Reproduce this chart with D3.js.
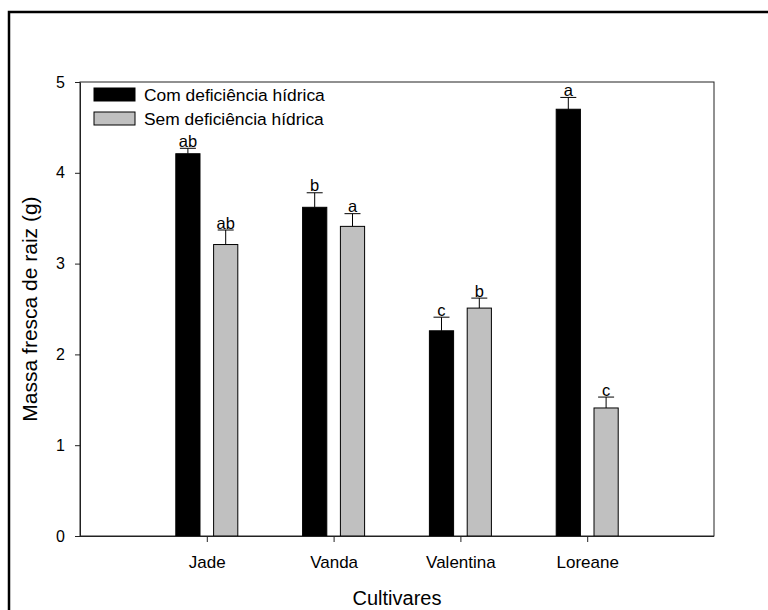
<!DOCTYPE html>
<html>
<head>
<meta charset="utf-8">
<script src="https://cdn.jsdelivr.net/npm/d3@7"></script>
<style>
  html, body { margin: 0; padding: 0; background: #fff; }
  svg { display: block; font-family: "Liberation Sans", Arial, sans-serif; }
</style>
</head>
<body>
<svg id="chart" width="768" height="610"></svg>
<script>
const categories = ["Jade", "Vanda", "Valentina", "Loreane"];
const seriesNames = ["Com deficiência hídrica", "Sem deficiência hídrica"];
const comValues = [4.21, 3.62, 2.26, 4.70];
const comErrors = [0.06, 0.16, 0.15, 0.13];
const comLetters = ["ab", "b", "c", "a"];
const semValues = [3.21, 3.41, 2.51, 1.41];
const semErrors = [0.16, 0.14, 0.11, 0.12];
const semLetters = ["ab", "a", "b", "c"];
const yTicks = [0, 1, 2, 3, 4, 5];
const xTitle = "Cultivares";
const yTitle = "Massa fresca de raiz (g)";

const colors = ["#000000", "#c0c0c0"];

const svg = d3.select("#chart");
const L = 80, R = 714, T = 82, B = 536;

// outer frame
svg.append("rect").attr("x", 9).attr("y", 12).attr("width", 820).attr("height", 700)
  .attr("fill", "none").attr("stroke", "#000").attr("stroke-width", 2.5);

const x = d3.scalePoint().domain(categories).range([L, R]).padding(1);
const sub = d3.scaleBand().domain(["com", "sem"]).range([-31, 31]).paddingInner(0.36);
const y = d3.scaleLinear().domain([0, 5]).range([B, T]);

// plot box
svg.append("rect").attr("x", L).attr("y", T).attr("width", R - L).attr("height", B - T)
  .attr("fill", "none").attr("stroke", "#222").attr("stroke-width", 1);

const rows = [];
categories.forEach((c, i) => {
  rows.push({ cat: c, key: "com", v: comValues[i], e: comErrors[i], l: comLetters[i], color: colors[0] });
  rows.push({ cat: c, key: "sem", v: semValues[i], e: semErrors[i], l: semLetters[i], color: colors[1] });
});

// error bars
const eg = svg.append("g").attr("stroke", "#000").attr("stroke-width", 1);
rows.forEach(d => {
  const cx = x(d.cat) + sub(d.key) + sub.bandwidth() / 2;
  eg.append("line").attr("x1", cx).attr("x2", cx).attr("y1", y(d.v)).attr("y2", y(d.v + d.e));
  eg.append("line").attr("x1", cx - 8).attr("x2", cx + 8).attr("y1", y(d.v + d.e)).attr("y2", y(d.v + d.e));
});

// bars
svg.append("g").selectAll("rect").data(rows).join("rect")
  .attr("x", d => x(d.cat) + sub(d.key))
  .attr("y", d => y(d.v))
  .attr("width", sub.bandwidth())
  .attr("height", d => y(0) - y(d.v))
  .attr("fill", d => d.color)
  .attr("stroke", "#000").attr("stroke-width", 1);

// letters
svg.append("g").selectAll("text").data(rows).join("text")
  .attr("x", d => x(d.cat) + sub(d.key) + sub.bandwidth() / 2)
  .attr("y", d => y(d.v + d.e) - 1.5)
  .attr("text-anchor", "middle")
  .attr("font-size", 16.5)
  .text(d => d.l);

// axes
const yAxis = d3.axisLeft(y).tickValues(yTicks).tickFormat(d3.format("d")).tickSize(5).tickSizeOuter(0).tickPadding(10);
const gy = svg.append("g").attr("transform", `translate(${L},0)`).call(yAxis);
gy.selectAll("text").attr("font-size", 16).attr("fill", "#000").attr("font-family", "Liberation Sans, Arial, sans-serif");
gy.selectAll("line, path").attr("stroke", "#222");

const xAxis = d3.axisBottom(x).tickSize(6).tickSizeOuter(0).tickPadding(14);
const gx = svg.append("g").attr("transform", `translate(0,${B})`).call(xAxis);
gx.selectAll("text").attr("font-size", 17).attr("fill", "#000").attr("font-family", "Liberation Sans, Arial, sans-serif");
gx.selectAll("line, path").attr("stroke", "#222");
gx.select(".domain").attr("d", `M${L},0.5H${R}`);

// titles
svg.append("text").attr("x", (L + R) / 2).attr("y", 605).attr("text-anchor", "middle")
  .attr("font-size", 20).text(xTitle);
svg.append("text").attr("transform", `translate(37,${(T + B) / 2}) rotate(-90)`)
  .attr("text-anchor", "middle").attr("font-size", 21).text(yTitle);

// legend
const lg = svg.append("g");
seriesNames.forEach((n, i) => {
  lg.append("rect").attr("x", 94).attr("y", 88 + i * 24).attr("width", 41).attr("height", 13)
    .attr("fill", colors[i]).attr("stroke", "#000").attr("stroke-width", 1);
  lg.append("text").attr("x", 144).attr("y", 101 + i * 24).attr("font-size", 17.4).text(n);
});
</script>
</body>
</html>
